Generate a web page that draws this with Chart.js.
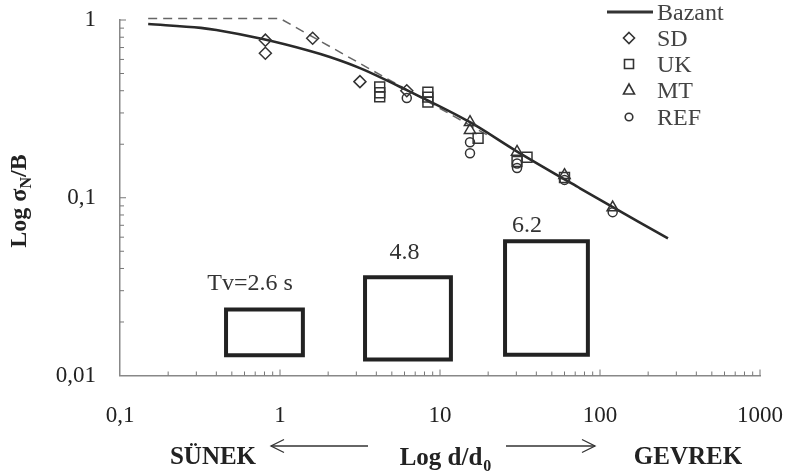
<!DOCTYPE html>
<html>
<head>
<meta charset="utf-8">
<script src="https://cdn.jsdelivr.net/npm/chart.js@4.4.1/dist/chart.umd.min.js"></script>
<style>
html,body{margin:0;padding:0;background:#fff;}
</style>
</head>
<body>
<canvas id="myChart" width="786" height="473"></canvas>
<script>
// axis ticks
var xTickValues = [0.1, 1, 10, 100, 1000];
var xTickLabels = ['0,1', '1', '10', '100', '1000'];
var yTickValues = [0.01, 0.1, 1];
var yTickLabels = ['0,01', '0,1', '1'];

// Bazant curve
var bazantX = [0.15, 0.32, 0.4, 0.78, 1.54, 2.05, 3.16, 6.2, 15.4, 30, 75, 266];
var bazantY = [0.949, 0.903, 0.878, 0.781, 0.669, 0.619, 0.536, 0.403, 0.266, 0.183, 0.113, 0.059];

// dashed asymptote
var dashX = [0.15, 1.0, 20];
var dashY = [1.02, 1.02, 0.224];

// test series
var sdX = [0.81, 0.81, 1.6, 3.16, 6.2];
var sdY = [0.77, 0.65, 0.79, 0.45, 0.40];
var ukX = [4.2, 4.2, 4.2, 8.4, 8.4, 8.4, 17.3, 35, 30.3, 60];
var ukY = [0.42, 0.39, 0.37, 0.393, 0.368, 0.345, 0.216, 0.169, 0.16, 0.13];
var mtX = [15.4, 15.4, 30.3, 60, 120];
var mtY = [0.266, 0.24, 0.181, 0.134, 0.088];
var refX = [6.2, 15.4, 15.4, 30.3, 30.3, 60, 120];
var refY = [0.364, 0.205, 0.178, 0.156, 0.147, 0.126, 0.083];

// period boxes
var boxLeft = [0.46, 3.4, 25.5];
var boxRight = [1.39, 11.7, 84];
var boxTop = [0.0235, 0.0357, 0.057];
var boxBottom = [0.013, 0.0123, 0.0131];
var boxLabels = ['Tv=2.6 s', '4.8', '6.2'];
var boxLabelX = [0.65, 6.0, 35];
var boxLabelY = [0.033, 0.0493, 0.070];

var legendNames = ['Bazant', 'SD', 'UK', 'MT', 'REF'];
var legendStyles = ['line', 'rectRot', 'rect', 'triangle', 'circle'];

var SERIF = "'Liberation Serif', 'Times New Roman', serif";

function pts(xs, ys) {
	var out = [];
	for (var i = 0; i < xs.length; i++) out.push({x: xs[i], y: ys[i]});
	return out;
}
function logTicks(vals) {
	var t = [];
	for (var i = 0; i < vals.length - 1; i++) {
		for (var k = 1; k < 10; k++) t.push(vals[i] * k);
	}
	t.push(vals[vals.length - 1]);
	return t;
}
function findLabel(values, labels, v) {
	for (var i = 0; i < values.length; i++) {
		if (Math.abs(values[i] - v) < values[i] * 1e-6) return labels[i];
	}
	return '';
}
function isDecade(v) {
	var l = Math.log10(v);
	return Math.abs(l - Math.round(l)) < 1e-6;
}
function drawMarker(ctx, style, x, y) {
	ctx.beginPath();
	if (style == 'rectRot') {
		ctx.moveTo(x, y - 5.5); ctx.lineTo(x + 5.5, y); ctx.lineTo(x, y + 5.5); ctx.lineTo(x - 5.5, y); ctx.closePath();
	} else if (style == 'rect') {
		ctx.rect(x - 4.5, y - 4.5, 9, 9);
	} else if (style == 'triangle') {
		ctx.moveTo(x, y - 6); ctx.lineTo(x + 5.5, y + 4); ctx.lineTo(x - 5.5, y + 4); ctx.closePath();
	} else {
		ctx.arc(x, y, 3.8, 0, Math.PI * 2);
	}
	ctx.stroke();
}
function arrow(ctx, x1, x2, y, dir) {
	ctx.beginPath(); ctx.moveTo(x1, y); ctx.lineTo(x2, y); ctx.stroke();
	var hx = dir > 0 ? x2 : x1;
	ctx.beginPath();
	ctx.moveTo(hx - dir * 13, y - 6.5); ctx.lineTo(hx, y); ctx.lineTo(hx - dir * 13, y + 6.5);
	ctx.stroke();
}

var decor = {
	id: 'decor',
	afterDraw: function(chart) {
		var ctx = chart.ctx, xs = chart.scales.x, ys = chart.scales.y, a = chart.chartArea;
		ctx.save();
		// inward minor ticks
		ctx.strokeStyle = '#777'; ctx.lineWidth = 1;
		xs.ticks.forEach(function(t) {
			var px = xs.getPixelForValue(t.value);
			if (px <= a.left + 1) return;
			var len = isDecade(t.value) ? 6 : 4;
			ctx.beginPath(); ctx.moveTo(px, a.bottom); ctx.lineTo(px, a.bottom - len); ctx.stroke();
		});
		ys.ticks.forEach(function(t) {
			var py = ys.getPixelForValue(t.value);
			if (py >= a.bottom - 1) return;
			var len = isDecade(t.value) ? 6 : 4;
			ctx.beginPath(); ctx.moveTo(a.left, py); ctx.lineTo(a.left + len, py); ctx.stroke();
		});

		// box labels
		ctx.fillStyle = '#333';
		ctx.font = '24px ' + SERIF;
		ctx.textAlign = 'center'; ctx.textBaseline = 'middle';
		for (var i = 0; i < boxLabels.length; i++) {
			ctx.fillText(boxLabels[i], xs.getPixelForValue(boxLabelX[i]), ys.getPixelForValue(boxLabelY[i]));
		}

		// legend
		ctx.textAlign = 'left'; ctx.textBaseline = 'alphabetic';
		ctx.font = '24px ' + SERIF;
		var rows = [12, 38, 64, 90, 117];
		for (var j = 0; j < legendNames.length; j++) {
			ctx.fillStyle = '#444';
			ctx.fillText(legendNames[j], 657, rows[j] + 8);
			ctx.strokeStyle = '#333';
			if (legendStyles[j] == 'line') {
				ctx.lineWidth = 3;
				ctx.beginPath(); ctx.moveTo(607, rows[j]); ctx.lineTo(653, rows[j]); ctx.stroke();
			} else {
				ctx.lineWidth = 1.6;
				drawMarker(ctx, legendStyles[j], 629, rows[j]);
			}
		}

		// bottom titles
		ctx.fillStyle = '#222';
		ctx.font = 'bold 25px ' + SERIF;
		ctx.textAlign = 'center';
		ctx.fillText('SÜNEK', 213, 464);
		ctx.fillText('GEVREK', 688, 464);
		ctx.textAlign = 'left';
		var w1 = ctx.measureText('Log d/d').width;
		ctx.font = 'bold 16px ' + SERIF;
		var w2 = ctx.measureText('0').width;
		var sx = 445 - (w1 + w2) / 2;
		ctx.font = 'bold 25px ' + SERIF;
		ctx.fillText('Log d/d', sx, 465);
		ctx.font = 'bold 16px ' + SERIF;
		ctx.fillText('0', sx + w1 + 1, 471);
		ctx.strokeStyle = '#333'; ctx.lineWidth = 1.3;
		arrow(ctx, 271, 368, 446, -1);
		arrow(ctx, 506, 595, 446, 1);

		// y title
		ctx.save();
		ctx.translate(26, 201);
		ctx.rotate(-Math.PI / 2);
		ctx.font = 'bold 24px ' + SERIF;
		var a1 = ctx.measureText('Log σ').width;
		var a3 = ctx.measureText('/B').width;
		ctx.font = 'bold 16px ' + SERIF;
		var a2 = ctx.measureText('N').width;
		var tx = -(a1 + a2 + a3) / 2;
		ctx.font = 'bold 24px ' + SERIF;
		ctx.fillText('Log σ', tx, 0);
		ctx.font = 'bold 16px ' + SERIF;
		ctx.fillText('N', tx + a1, 5);
		ctx.font = 'bold 24px ' + SERIF;
		ctx.fillText('/B', tx + a1 + a2, 0);
		ctx.restore();

		ctx.restore();
	}
};

var boxSets = [];
for (var b = 0; b < boxLeft.length; b++) {
	boxSets.push({
		data: pts([boxLeft[b], boxRight[b], boxRight[b], boxLeft[b], boxLeft[b], boxRight[b]],
		          [boxTop[b], boxTop[b], boxBottom[b], boxBottom[b], boxTop[b], boxTop[b]]),
		showLine: true,
		borderColor: '#222',
		borderWidth: 4,
		borderJoinStyle: 'miter',
		pointRadius: 0,
		tension: 0
	});
}

function markerSet(xs, ys, style, r) {
	return {
		data: pts(xs, ys),
		showLine: false,
		pointStyle: style,
		pointRadius: r,
		pointBorderWidth: 1.5,
		pointBorderColor: '#333',
		pointBackgroundColor: 'rgba(0,0,0,0)'
	};
}

new Chart(document.getElementById("myChart"), {
	type: 'scatter',
	data: {
		datasets: [
			markerSet(sdX, sdY, 'rectRot', 6),
			markerSet(ukX, ukY, 'rect', 7),
			markerSet(mtX, mtY, 'triangle', 6.5),
			markerSet(refX, refY, 'circle', 4.5),
			{
				data: pts(bazantX, bazantY),
				showLine: true,
				borderColor: '#2a2a2a',
				borderWidth: 2.6,
				pointRadius: 0,
				cubicInterpolationMode: 'monotone'
			},
			{
				data: pts(dashX, dashY),
				showLine: true,
				clip: false,
				borderColor: '#666',
				borderWidth: 1.5,
				borderDash: [9, 6],
				pointRadius: 0,
				tension: 0
			}
		].concat(boxSets)
	},
	options: {
		responsive: false,
		animation: false,
		layout: { padding: { left: 0, right: 26, top: 20, bottom: 0 } },
		plugins: { legend: { display: false }, tooltip: { enabled: false } },
		scales: {
			x: {
				type: 'logarithmic',
				min: 0.1,
				max: 1000,
				afterBuildTicks: function(scale) {
					scale.ticks = logTicks(xTickValues).map(function(v) { return {value: v}; });
				},
				afterFit: function(scale) {
					scale.height = 97.5;
					scale.paddingLeft = 0; scale.paddingRight = 0;
				},
				grid: { display: false, drawTicks: false },
				border: { display: true, color: '#888', width: 1.5 },
				ticks: {
					autoSkip: false,
					maxRotation: 0,
					padding: 27,
					color: '#222',
					font: { family: SERIF, size: 23 },
					callback: function(value) { return findLabel(xTickValues, xTickLabels, value); }
				}
			},
			y: {
				type: 'logarithmic',
				min: 0.01,
				max: 1,
				afterBuildTicks: function(scale) {
					scale.ticks = logTicks(yTickValues).map(function(v) { return {value: v}; });
				},
				afterFit: function(scale) {
					scale.width = 120;
					scale.paddingTop = 0; scale.paddingBottom = 0;
				},
				grid: { display: false, drawTicks: false },
				border: { display: true, color: '#888', width: 1.5 },
				ticks: {
					autoSkip: false,
					padding: 24,
					color: '#222',
					font: { family: SERIF, size: 23 },
					callback: function(value) { return findLabel(yTickValues, yTickLabels, value); }
				}
			}
		}
	},
	plugins: [decor]
});
</script>
</body>
</html>
